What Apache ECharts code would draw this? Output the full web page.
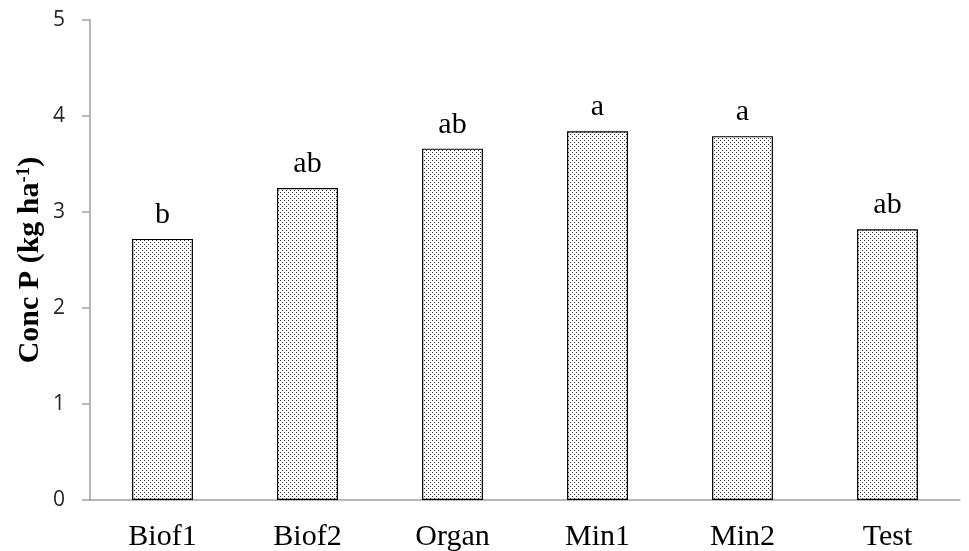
<!DOCTYPE html>
<html><head><meta charset="utf-8">
<script src="https://cdn.jsdelivr.net/npm/echarts@6/dist/echarts.min.js"></script>
<style>html,body{margin:0;padding:0;background:#fff}#c{width:969px;height:551px}</style>
</head><body><div id="c"></div>
<script>
var categories = ['Biof1','Biof2','Organ','Min1','Min2','Test'];
var values = [2.72, 3.25, 3.66, 3.84, 3.79, 2.82];
var letters = ['b','ab','ab','a','a','ab'];
var yTicks = [0,1,2,3,4,5];

var pc = document.createElement('canvas');
pc.width = 4; pc.height = 4;
var g = pc.getContext('2d');
g.fillStyle = '#fff'; g.fillRect(0,0,4,4);
g.fillStyle = '#333';
g.fillRect(0,0,1,1); g.fillRect(2,2,1,1);

var chart = echarts.init(document.getElementById('c'), null, {renderer:'canvas'});
chart.setOption({
  backgroundColor:'#fff',
  animation:false,
  grid:{left:90, right:9, top:20, bottom:51, containLabel:false, outerBoundsMode:'none'},
  xAxis:{
    type:'category', data:categories,
    axisLine:{lineStyle:{color:'#a0a0a0', width:1.5}},
    axisTick:{show:false},
    axisLabel:{fontFamily:'Liberation Serif', fontSize:30, color:'#000', margin:22}
  },
  yAxis:{
    type:'value', min:0, max:5, interval:1,
    name:'{a|Conc P (kg ha}{s|-1}{a|)}',
    nameLocation:'middle', nameGap:45, nameRotate:90, nameMoveOverlap:false,
    nameTextStyle:{rich:{
      a:{fontFamily:'Liberation Serif', fontWeight:'bold', fontSize:30, color:'#000'},
      s:{fontFamily:'Liberation Serif', fontWeight:'bold', fontSize:19, color:'#000', verticalAlign:'top', lineHeight:18, padding:[0,0,14,0]}
    }},
    axisLine:{show:true, lineStyle:{color:'#a0a0a0', width:1.5}},
    axisTick:{show:true, inside:false, length:8, lineStyle:{color:'#a0a0a0', width:1.5}},
    splitLine:{show:false},
    axisLabel:{fontFamily:'Open Sans', fontSize:21, color:'#262626', margin:25,
      formatter:function(v){return yTicks.indexOf(v)>=0 ? String(v) : '';}}
  },
  series:[{
    type:'bar', data:values, barWidth:'42%',
    itemStyle:{color:{image:pc, repeat:'repeat'}, borderColor:'#000', borderWidth:1.2},
    label:{show:true, position:'top', distance:9,
      fontFamily:'Liberation Serif', fontSize:30, color:'#000',
      formatter:function(p){return letters[p.dataIndex];}}
  }]
});
</script></body></html>
